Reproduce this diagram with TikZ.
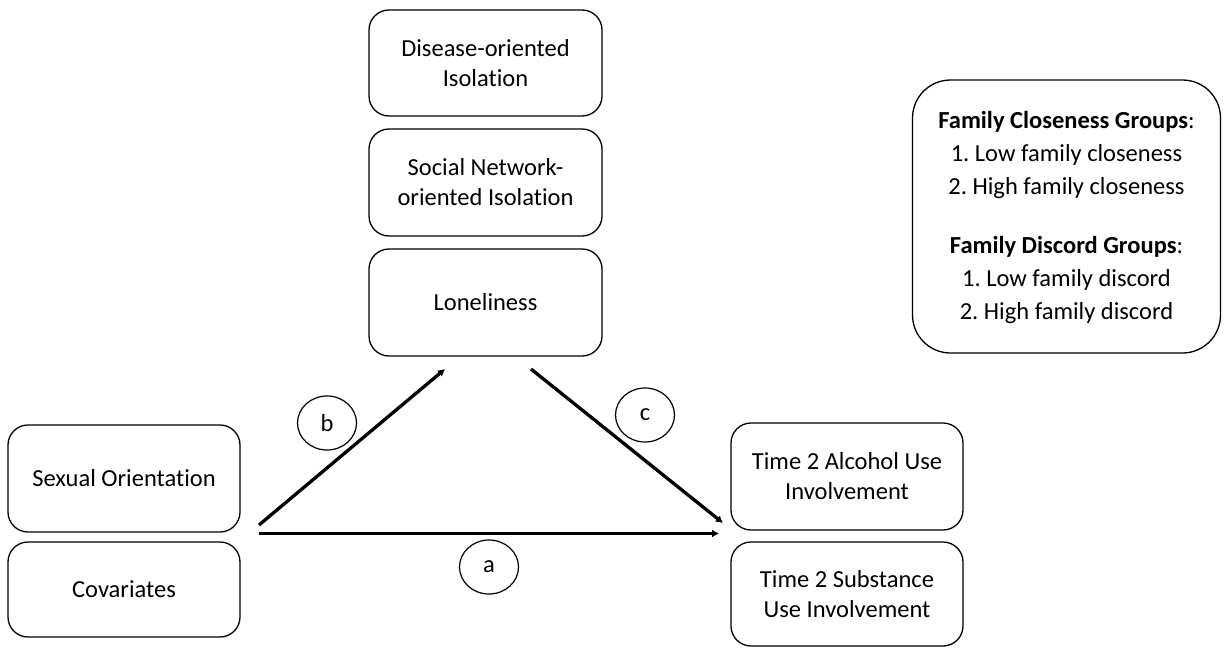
\documentclass[tikz,border=0pt]{standalone}
\usepackage{fontspec}
\setmainfont[Ligatures=NoCommon]{Carlito}
\usetikzlibrary{arrows.meta,shapes.geometric}
\tikzset{
  varbox/.style={draw, rounded corners=20pt, line width=1.3pt, align=center, inner sep=0pt,
    font=\fontsize{24.5}{30}\selectfont},
  pathlabel/.style={draw, ellipse, line width=1.2pt, minimum width=59pt, minimum height=54pt, inner sep=0pt,
    font=\fontsize{24.5}{30}\selectfont},
  patharrow/.style={line width=3.3pt, -{Latex[length=7pt,width=8pt]}}
}
\frenchspacing
\begin{document}
\begin{tikzpicture}[x=1pt,y=-1pt]
\useasboundingbox (0,0) rectangle (1225,648);
% mediators
\node[varbox, minimum width=233pt, minimum height=106pt] (dis) at (485.5,63) {Disease-oriented\\Isolation};
\node[varbox, minimum width=233pt, minimum height=107pt] (soc) at (485.5,182.5) {Social Network-\\oriented Isolation};
\node[varbox, minimum width=233pt, minimum height=107pt] (lon) at (485.5,302.5) {Loneliness};
% predictors
\node[varbox, minimum width=232pt, minimum height=107pt] (sex) at (124,478.5) {Sexual Orientation};
\node[varbox, minimum width=232pt, minimum height=95pt] (cov) at (124,589.5) {Covariates};
% outcomes
\node[varbox, minimum width=232pt, minimum height=107pt] (alc) at (847,476.5) {Time 2 Alcohol Use\\Involvement};
\node[varbox, minimum width=232pt, minimum height=104pt] (sub) at (847,594) {Time 2 Substance\\Use Involvement};
% legend
\node[varbox, rounded corners=38pt, minimum width=308pt, minimum height=273pt] (leg) at (1066.5,216.5) {};
\node[align=center, inner sep=0pt, font=\fontsize{24.5}{33}\selectfont] (legtext) at (1066.5,218) {%
\textbf{Family Closeness Groups}:\\
1. Low family closeness\\
2. High family closeness\\[26pt]
\textbf{Family Discord Groups}:\\
1. Low family discord\\
2. High family discord};
% arrows
\coordinate (bS) at (259,525);
\coordinate (bE) at (445,369);
\coordinate (cS) at (531,369);
\coordinate (cE) at (723,523);
\coordinate (aS) at (259,533.5);
\coordinate (aE) at (719,533.5);
\draw[patharrow] (bS) -- (bE);
\draw[patharrow] (cS) -- (cE);
\draw[patharrow] (aS) -- (aE);
% path labels
\node[pathlabel] (lb) at (327,423) {b};
\node[pathlabel] (lc) at (645,415) {c};
\node[pathlabel] (la) at (489,567) {a};
\end{tikzpicture}
\end{document}
